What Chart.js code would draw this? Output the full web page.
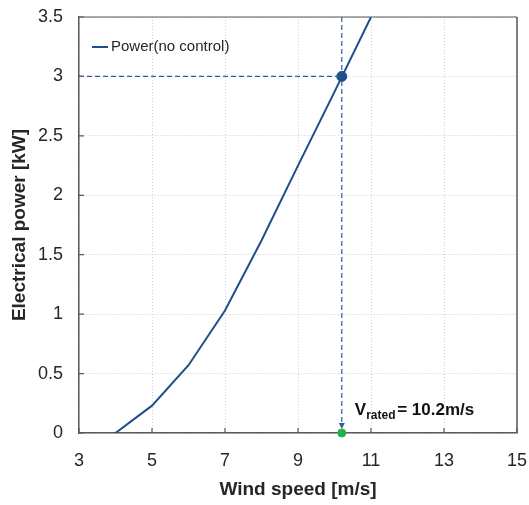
<!DOCTYPE html>
<html>
<head>
<meta charset="utf-8">
<script src="https://cdn.jsdelivr.net/npm/chart.js@4"></script>
<style>
  html, body { margin: 0; padding: 0; background: #fff; }
  #wrap { width: 529px; height: 505px; }
</style>
</head>
<body>
<div id="wrap"><canvas id="powerCanvas" width="529" height="505"></canvas></div>
<script>
// power curve
let windSpeed = [4, 5, 6, 7, 8, 9, 10, 11];
let power = [0, 0.23, 0.57, 1.03, 1.62, 2.25, 2.87, 3.5];
let ratedSpeed = 10.2;
let ratedPower = 3;
let xTicks = [3, 5, 7, 9, 11, 13, 15];
let yTicks = [0, 0.5, 1, 1.5, 2, 2.5, 3, 3.5];

let lineColor = "#1f4e89";
let guideColor = "#2f5f9a";
let fontName = "'Liberation Sans', Arial, sans-serif";

let curve = windSpeed.map(function (w, i) { return { x: w, y: power[i] }; });

// frame, inner ticks, legend, arrow and label
let extras = {
    id: "extras",
    afterDraw: function (chart) {
        let c = chart.ctx;
        let a = chart.chartArea;
        let xs = chart.scales.x;
        let ys = chart.scales.y;
        c.save();

        // top and right frame
        c.strokeStyle = "#7f7f7f";
        c.lineWidth = 2;
        c.beginPath();
        c.moveTo(a.right, a.bottom);
        c.lineTo(a.right, a.top);
        c.stroke();
        c.strokeStyle = "#595959";
        c.lineWidth = 1.2;
        c.beginPath();
        c.moveTo(a.left, a.top);
        c.lineTo(a.right, a.top);
        c.stroke();

        // small inside ticks
        c.strokeStyle = "#595959";
        c.lineWidth = 1.2;
        c.beginPath();
        xTicks.forEach(function (t) {
            let px = xs.getPixelForValue(t);
            c.moveTo(px, a.bottom);
            c.lineTo(px, a.bottom - 5);
        });
        yTicks.forEach(function (t) {
            let py = ys.getPixelForValue(t);
            c.moveTo(a.left, py);
            c.lineTo(a.left + 5, py);
        });
        c.stroke();

        // legend inside the plot
        c.strokeStyle = lineColor;
        c.lineWidth = 2;
        c.beginPath();
        c.moveTo(a.left + 13, 47);
        c.lineTo(a.left + 29, 47);
        c.stroke();
        c.fillStyle = "#262626";
        c.font = "15px " + fontName;
        c.textBaseline = "middle";
        c.fillText(chart.data.datasets[0].label, a.left + 32, 47);

        // arrow head on the vertical guide
        let ax = xs.getPixelForValue(ratedSpeed);
        let ay = ys.getPixelForValue(0) - 4;
        c.fillStyle = guideColor;
        c.beginPath();
        c.moveTo(ax - 3, ay - 6);
        c.lineTo(ax + 3, ay - 6);
        c.lineTo(ax, ay);
        c.closePath();
        c.fill();

        // V_rated label
        let lx = ax + 13;
        let ly = ys.getPixelForValue(0) - 18;
        c.fillStyle = "#111";
        c.textBaseline = "alphabetic";
        c.font = "bold 17px " + fontName;
        c.fillText("V", lx, ly);
        let vw = c.measureText("V").width;
        c.font = "bold 12px " + fontName;
        c.fillText("rated", lx + vw, ly + 4);
        let rw = c.measureText("rated").width;
        c.font = "bold 17px " + fontName;
        c.fillText(" = " + ratedSpeed + "m/s", lx + vw + rw - 3, ly);

        c.restore();
    }
};

let ctx = document.getElementById("powerCanvas");

let data = {
    datasets: [
        {
            label: "Power(no control)",
            data: curve,
            borderColor: lineColor,
            borderWidth: 2,
            pointRadius: 0,
            tension: 0
        },
        {
            label: "h-guide",
            data: [{ x: 3, y: ratedPower }, { x: ratedSpeed, y: ratedPower }],
            borderColor: guideColor,
            borderWidth: 1.2,
            borderDash: [5, 3],
            pointRadius: 0
        },
        {
            label: "v-guide",
            data: [{ x: ratedSpeed, y: 3.5 }, { x: ratedSpeed, y: 0.05 }],
            borderColor: guideColor,
            borderWidth: 1.2,
            borderDash: [5, 3],
            pointRadius: 0
        },
        {
            label: "rated point",
            data: [{ x: ratedSpeed, y: ratedPower }],
            backgroundColor: lineColor,
            borderColor: lineColor,
            pointRadius: 5,
            showLine: false
        },
        {
            label: "rated speed",
            data: [{ x: ratedSpeed, y: 0 }],
            backgroundColor: "#1fb24a",
            borderColor: "#1fb24a",
            pointRadius: 4,
            showLine: false,
            clip: false
        }
    ]
};

let tickFont = { family: fontName, size: 18 };
let titleFont = { family: fontName, size: 19, weight: "bold" };

let options = {
    responsive: false,
    animation: false,
    layout: { padding: { top: 17, right: 12, left: 0, bottom: 0 } },
    plugins: {
        legend: { display: false },
        tooltip: { enabled: false }
    },
    scales: {
        x: {
            type: "linear",
            min: 3,
            max: 15,
            afterBuildTicks: function (s) { s.ticks = xTicks.map(function (v) { return { value: v }; }); },
            afterFit: function (s) {
                s.height = 72;
                s.paddingLeft = 0;
                s.paddingRight = 0;
            },
            ticks: { padding: 17, color: "#262626", font: tickFont },
            grid: { color: "#cfcfcf", drawTicks: false, lineWidth: 1 },
            border: { color: "#595959", width: 1.5, dash: [1, 2] },
            title: {
                display: true,
                text: "Wind speed [m/s]",
                color: "#262626",
                font: titleFont,
                padding: { top: 4 }
            }
        },
        y: {
            type: "linear",
            min: 0,
            max: 3.5,
            afterBuildTicks: function (s) { s.ticks = yTicks.map(function (v) { return { value: v }; }); },
            afterFit: function (s) {
                s.width = 79;
                s.paddingTop = 0;
                s.paddingBottom = 0;
            },
            ticks: {
                padding: 16,
                color: "#262626",
                font: tickFont,
                callback: function (v) { return String(v); }
            },
            grid: { color: "#cfcfcf", drawTicks: false, lineWidth: 1 },
            border: { color: "#595959", width: 1.5, dash: [1, 2] },
            title: {
                display: true,
                text: "Electrical power [kW]",
                color: "#262626",
                font: titleFont,
                padding: { top: 8, bottom: 0 }
            }
        }
    }
};

var powerChart = new Chart(ctx, {
    type: "line",
    data: data,
    options: options,
    plugins: [extras]
});
</script>
</body>
</html>
